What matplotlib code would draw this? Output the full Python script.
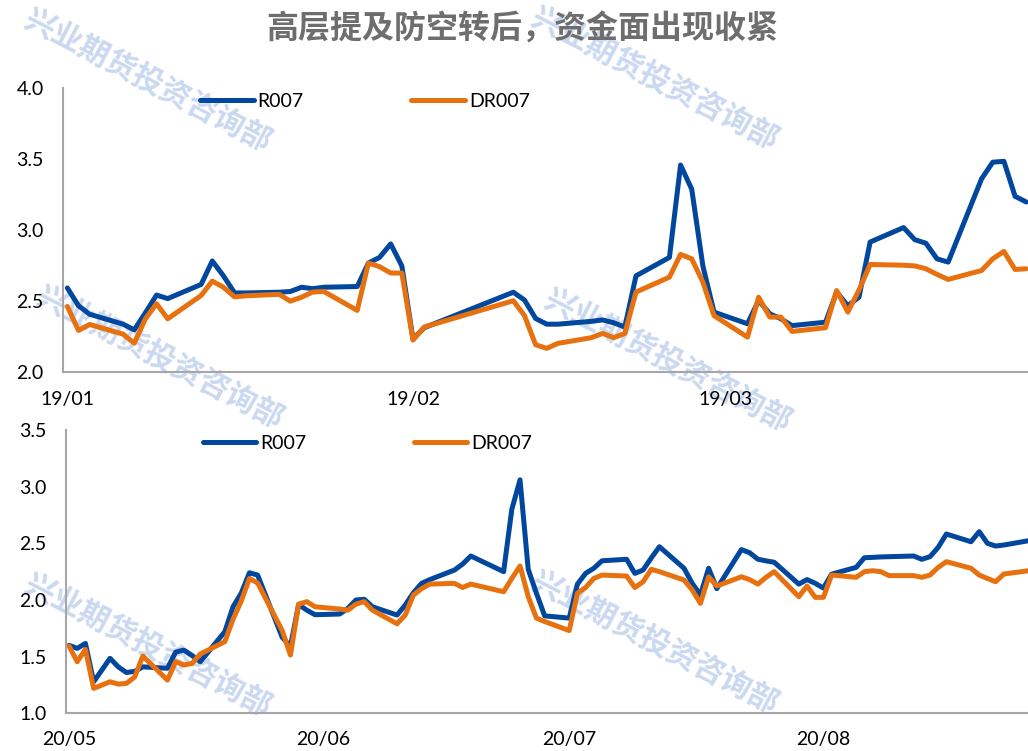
import matplotlib
matplotlib.use("Agg")
import matplotlib.pyplot as plt
import matplotlib.dates as mdates
import pandas as pd

plt.rcParams["font.family"] = ["Lato", "Noto Sans CJK SC", "DejaVu Sans"]

TITLE = "高层提及防空转后，资金面出现收紧"
WATERMARK = "兴业期货投资咨询部"
SERIES_NAMES = ["R007", "DR007"]

# ---------------------------------------------------------------------------
# 2019 Q1
# ---------------------------------------------------------------------------
dates_2019 = [
    "2019-01-02", "2019-01-03", "2019-01-04", "2019-01-07", "2019-01-08",
    "2019-01-09", "2019-01-10", "2019-01-11", "2019-01-14", "2019-01-15",
    "2019-01-16", "2019-01-17", "2019-01-18", "2019-01-21", "2019-01-22",
    "2019-01-23", "2019-01-24", "2019-01-25", "2019-01-28", "2019-01-29",
    "2019-01-30", "2019-01-31", "2019-02-01", "2019-02-02", "2019-02-03",
    "2019-02-11", "2019-02-12", "2019-02-13", "2019-02-14", "2019-02-15",
    "2019-02-18", "2019-02-19", "2019-02-20", "2019-02-21", "2019-02-22",
    "2019-02-25", "2019-02-26", "2019-02-27", "2019-02-28", "2019-03-01",
    "2019-03-04", "2019-03-05", "2019-03-06", "2019-03-07", "2019-03-08",
    "2019-03-11", "2019-03-12", "2019-03-13", "2019-03-14", "2019-03-15",
    "2019-03-18", "2019-03-19", "2019-03-20", "2019-03-21", "2019-03-22",
    "2019-03-25", "2019-03-26", "2019-03-27", "2019-03-28", "2019-03-29",
]
r007_2019 = [
    2.595, 2.47, 2.41, 2.34, 2.30, 2.42, 2.545, 2.52, 2.62, 2.785,
    2.68, 2.56, 2.56, 2.565, 2.57, 2.60, 2.59, 2.60, 2.605, 2.77,
    2.81, 2.905, 2.75, 2.235, 2.315, 2.565, 2.51, 2.38, 2.34, 2.34,
    2.36, 2.37, 2.35, 2.32, 2.68, 2.81, 3.46, 3.29, 2.75, 2.425,
    2.343, 2.507, 2.413, 2.378, 2.33, 2.354, 2.566, 2.47, 2.53, 2.918,
    3.02, 2.935, 2.91, 2.80, 2.777, 3.364, 3.48, 3.486, 3.24, 3.20,
]
dr007_2019 = [
    2.465, 2.296, 2.338, 2.27, 2.206, 2.378, 2.484, 2.378, 2.542, 2.643,
    2.60, 2.532, 2.54, 2.55, 2.502, 2.53, 2.566, 2.57, 2.437, 2.77,
    2.745, 2.70, 2.70, 2.228, 2.32, 2.505, 2.40, 2.195, 2.17, 2.205,
    2.245, 2.275, 2.245, 2.275, 2.566, 2.671, 2.831, 2.80, 2.636, 2.40,
    2.249, 2.53, 2.39, 2.39, 2.289, 2.315, 2.577, 2.425, 2.58, 2.76,
    2.755, 2.75, 2.73, 2.69, 2.655, 2.718, 2.80, 2.852, 2.725, 2.73,
]
ticks_2019 = ["2019-01-02", "2019-02-02", "2019-03-02"]

# ---------------------------------------------------------------------------
# 2020 May - Aug
# ---------------------------------------------------------------------------
dates_2020 = [
    "2020-05-06", "2020-05-07", "2020-05-08", "2020-05-09", "2020-05-11",
    "2020-05-12", "2020-05-13", "2020-05-14", "2020-05-15", "2020-05-18",
    "2020-05-19", "2020-05-20", "2020-05-21", "2020-05-22", "2020-05-25",
    "2020-05-26", "2020-05-27", "2020-05-28", "2020-05-29", "2020-06-01",
    "2020-06-02", "2020-06-03", "2020-06-04", "2020-06-05", "2020-06-08",
    "2020-06-09", "2020-06-10", "2020-06-11", "2020-06-12", "2020-06-15",
    "2020-06-16", "2020-06-17", "2020-06-18", "2020-06-19", "2020-06-22",
    "2020-06-23", "2020-06-24", "2020-06-28", "2020-06-29", "2020-06-30",
    "2020-07-01", "2020-07-02", "2020-07-03", "2020-07-06", "2020-07-07",
    "2020-07-08", "2020-07-09", "2020-07-10", "2020-07-13", "2020-07-14",
    "2020-07-15", "2020-07-16", "2020-07-17", "2020-07-20", "2020-07-21",
    "2020-07-22", "2020-07-23", "2020-07-24", "2020-07-27", "2020-07-28",
    "2020-07-29", "2020-07-30", "2020-07-31", "2020-08-03", "2020-08-04",
    "2020-08-05", "2020-08-06", "2020-08-07", "2020-08-10", "2020-08-11",
    "2020-08-12", "2020-08-13", "2020-08-14", "2020-08-17", "2020-08-18",
    "2020-08-19", "2020-08-20", "2020-08-21", "2020-08-24", "2020-08-25",
    "2020-08-26", "2020-08-27", "2020-08-28", "2020-08-31",
]
r007_2020 = [
    1.60, 1.573, 1.617, 1.278, 1.485, 1.41, 1.36, 1.37, 1.41, 1.397,
    1.54, 1.558, 1.51, 1.455, 1.72, 1.94, 2.06, 2.24, 2.22, 1.67,
    1.59, 1.96, 1.91, 1.87, 1.876, 1.926, 2.00, 2.006, 1.94, 1.867,
    1.955, 2.064, 2.147, 2.18, 2.264, 2.317, 2.388, 2.25, 2.80, 3.06,
    2.27, 2.06, 1.86, 1.84, 2.14, 2.235, 2.28, 2.346, 2.359, 2.235,
    2.264, 2.37, 2.47, 2.28, 2.147, 2.044, 2.28, 2.10, 2.445, 2.417,
    2.36, 2.345, 2.333, 2.14, 2.18, 2.147, 2.105, 2.228, 2.288, 2.373,
    2.376, 2.38, 2.382, 2.388, 2.359, 2.382, 2.465, 2.582, 2.514, 2.603,
    2.50, 2.476, 2.485, 2.523,
]
dr007_2020 = [
    1.594, 1.455, 1.564, 1.22, 1.278, 1.258, 1.264, 1.32, 1.505, 1.293,
    1.455, 1.426, 1.44, 1.523, 1.632, 1.83, 1.99, 2.19, 2.15, 1.73,
    1.514, 1.964, 1.985, 1.94, 1.92, 1.91, 1.964, 1.985, 1.91, 1.79,
    1.867, 2.044, 2.10, 2.14, 2.147, 2.11, 2.14, 2.073, 2.19, 2.30,
    2.03, 1.84, 1.81, 1.73, 2.06, 2.11, 2.19, 2.22, 2.211, 2.11,
    2.16, 2.27, 2.25, 2.176, 2.088, 1.97, 2.205, 2.123, 2.205, 2.18,
    2.14, 2.20, 2.25, 2.029, 2.123, 2.023, 2.023, 2.22, 2.20, 2.25,
    2.258, 2.25, 2.215, 2.215, 2.20, 2.22, 2.288, 2.338, 2.28, 2.22,
    2.19, 2.161, 2.229, 2.258,
]
ticks_2020 = ["2020-05-06", "2020-06-06", "2020-07-06", "2020-08-06"]

BLUE = "#00479D"
ORANGE = "#E8710F"
SPINE = "#A6A6A6"
FS = 14


def draw_panel(ax, dates, r_vals, dr_vals, ticks, xlim_days, yticks):
    x = pd.to_datetime(dates)
    ax.plot(x, r_vals, color=BLUE, lw=3.6, solid_joinstyle="round",
            solid_capstyle="round", label=SERIES_NAMES[0])
    ax.plot(x, dr_vals, color=ORANGE, lw=3.6, solid_joinstyle="round",
            solid_capstyle="round", label=SERIES_NAMES[1])

    start = x[0]
    ax.set_xlim(start + pd.Timedelta(days=xlim_days[0]),
                start + pd.Timedelta(days=xlim_days[1]))
    ax.set_ylim(yticks[0], yticks[-1])

    ax.set_xticks(pd.to_datetime(ticks))
    ax.xaxis.set_major_formatter(mdates.DateFormatter("%y/%m"))
    ax.set_yticks(yticks)
    ax.set_yticklabels([f"{v:.1f}" for v in yticks])
    ax.tick_params(axis="both", length=0, labelsize=FS, colors="black")
    ax.tick_params(axis="y", pad=14)
    ax.tick_params(axis="x", pad=13)

    for side in ("top", "right"):
        ax.spines[side].set_visible(False)
    for side in ("left", "bottom"):
        ax.spines[side].set_color(SPINE)
        ax.spines[side].set_linewidth(1.5)
    ax.set_facecolor("none")

    ax.legend(loc="center left", bbox_to_anchor=(0.142, 0.953), ncol=2,
              frameon=False, fontsize=FS, handlelength=2.75, handletextpad=0.2,
              columnspacing=5.55, borderpad=0, borderaxespad=0)


fig = plt.figure(figsize=(10.28, 7.51), dpi=100)
fig.patch.set_facecolor("white")

# watermark behind both panels
for cx, cy in [(148, 80), (655, 78), (160, 357), (668, 360), (148, 645), (655, 642)]:
    fig.text(cx / 1028, 1 - cy / 751, WATERMARK, rotation=-27.5,
             rotation_mode="anchor", ha="center", va="center",
             fontsize=22, fontweight="bold", color="#CAD8F0",
             family=["Noto Sans CJK SC"], zorder=-1)

ax_top = fig.add_axes([63 / 1028, 1 - 372.5 / 751, 1 - 63 / 1028, 284.2 / 751])
draw_panel(ax_top, dates_2019, r007_2019, dr007_2019, ticks_2019,
           (-0.39, 86.16), [2.0, 2.5, 3.0, 3.5, 4.0])

ax_bot = fig.add_axes([66 / 1028, 1 - 713.3 / 751, 1 - 66 / 1028, 283.3 / 751])
draw_panel(ax_bot, dates_2020, r007_2020, dr007_2020, ticks_2020,
           (-0.37, 116.95), [1.0, 1.5, 2.0, 2.5, 3.0, 3.5])

fig.text(522 / 1028, 1 - 30 / 751, TITLE, ha="center", va="center",
         fontsize=23, fontweight="bold", color="#6E6E6E",
         family=["Noto Sans CJK SC", "DejaVu Sans"])

fig.savefig("out.png", dpi=100)
